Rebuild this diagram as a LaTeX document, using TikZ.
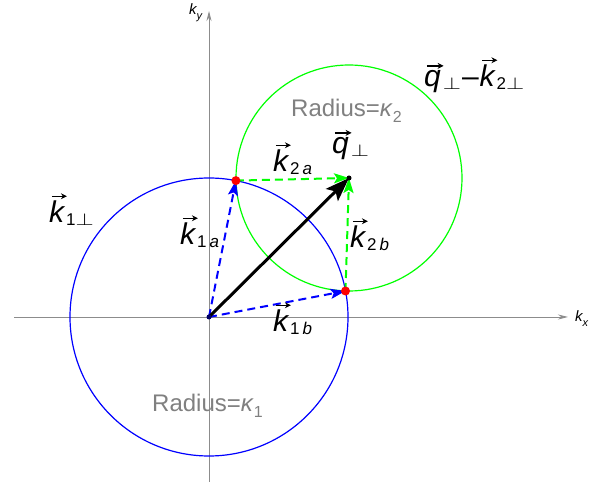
\documentclass[tikz,border=0pt]{standalone}
\usepackage{fontspec}
\setmainfont{Liberation Sans}
\usetikzlibrary{arrows.meta}
\newsavebox{\vecbox}
\newlength{\vecw}
\newlength{\vech}
\newcommand{\vecsym}[1]{\leavevmode\sbox{\vecbox}{\itshape #1}\setlength{\vecw}{\wd\vecbox}\setlength{\vech}{\ht\vecbox}%
  \rlap{\kern2pt\raisebox{\dimexpr\vech+2pt\relax}{\tikz\draw[line width=1.4pt,-{Stealth[length=6pt,width=6pt]}] (0pt,0pt) -- (\vecw,0pt);}}\usebox{\vecbox}}
\newcommand{\subtxt}[1]{\kern2pt\raisebox{-3pt}{\fontsize{17}{17}\selectfont #1}}
\newcommand{\perpw}{\scalebox{1.35}[1]{$\perp$}}
\begin{document}
\begin{tikzpicture}[x=1pt,y=1pt,
  axisline/.style={draw=black!45, line width=0.9pt, -{Stealth[length=10pt,width=5pt]}},
  bluecirc/.style={draw=blue, line width=1.2pt},
  greencirc/.style={draw=green, line width=1.2pt},
  bluevec/.style={draw=blue, line width=2pt, dash pattern=on 8pt off 5pt, -{Stealth[length=15pt,width=10pt,inset=3pt]}},
  greenvec/.style={draw=green, line width=2pt, dash pattern=on 8pt off 5pt, -{Stealth[length=15pt,width=10pt,inset=3pt]}},
  blackvec/.style={draw=black, line width=3pt, -{Stealth[length=24pt,width=17pt,inset=5pt]}},
  veclabel/.style={font=\fontsize{30}{30}\selectfont, inner sep=0pt, anchor=base west},
  radlabel/.style={font=\fontsize{24}{24}\selectfont, text=black!50, inner sep=0pt, anchor=base west},
  axlabel/.style={font=\fontsize{15}{15}\selectfont, inner sep=0pt, anchor=base west},
  reddot/.style={circle, fill=red, minimum size=9pt, inner sep=0pt},
  blackdot/.style={circle, fill=black, minimum size=5pt, inner sep=0pt},
  origdot/.style={circle, fill=blue!40!black, minimum size=5pt, inner sep=0pt}]
\useasboundingbox (0,0) rectangle (608,487);
\coordinate (O) at (209,170);
\coordinate (Q) at (349,309);
\coordinate (A) at (235.9,306.4);
\coordinate (B) at (345.5,196);
\coordinate (xl) at (14,170);
\coordinate (xr) at (568,170);
\coordinate (yb) at (209,5);
\coordinate (yt) at (209,476);
% axes
\draw[axisline] (xl) -- (xr);
\draw[axisline] (yb) -- (yt);
\node[axlabel] (kx) at (575,165) {\itshape k\raisebox{-0.3em}{\fontsize{11}{11}\selectfont x}};
\node[axlabel] (ky) at (189,472) {\itshape k\raisebox{-0.3em}{\fontsize{11}{11}\selectfont y}};
% circles
\draw[bluecirc] (O) circle[radius=139];
\draw[greencirc] (Q) circle[radius=113];
% vectors
\draw[bluevec] (O) -- (A);
\draw[bluevec] (O) -- (B);
\draw[greenvec] (A) -- (Q);
\draw[greenvec] (B) -- (Q);
\draw[blackvec] (O) -- (Q);
% dots
\node[reddot] (dA) at (A) {};
\node[reddot] (dB) at (B) {};
\node[blackdot] (dQ) at (Q) {};
\node[origdot] (dO) at (O) {};
% labels
\node[veclabel] (l1perp) at (49,264) {\vecsym{k}\subtxt{1\perpw}};
\node[veclabel] (lqk) at (424,400) {\vecsym{q}\subtxt{\perpw}\kern1pt–\kern1pt\vecsym{k}\subtxt{2\perpw}};
\node[radlabel] (r2) at (291,370) {Radius=\textit{κ}\raisebox{-0.25em}{\fontsize{16}{16}\selectfont 2}};
\node[radlabel] (r1) at (152,75) {Radius=\textit{κ}\raisebox{-0.25em}{\fontsize{16}{16}\selectfont 1}};
\node[veclabel] (l2a) at (273,315) {\vecsym{k}\subtxt{2\kern3pt\itshape a}};
\node[veclabel] (lq) at (332,333) {\vecsym{q}\subtxt{\perpw}};
\node[veclabel] (l1a) at (180,242) {\vecsym{k}\subtxt{1\kern3pt\itshape a}};
\node[veclabel] (l2b) at (350,239) {\vecsym{k}\subtxt{2\kern3pt\itshape b}};
\node[veclabel] (l1b) at (273,155) {\vecsym{k}\subtxt{1\kern3pt\itshape b}};
\end{tikzpicture}
\end{document}
